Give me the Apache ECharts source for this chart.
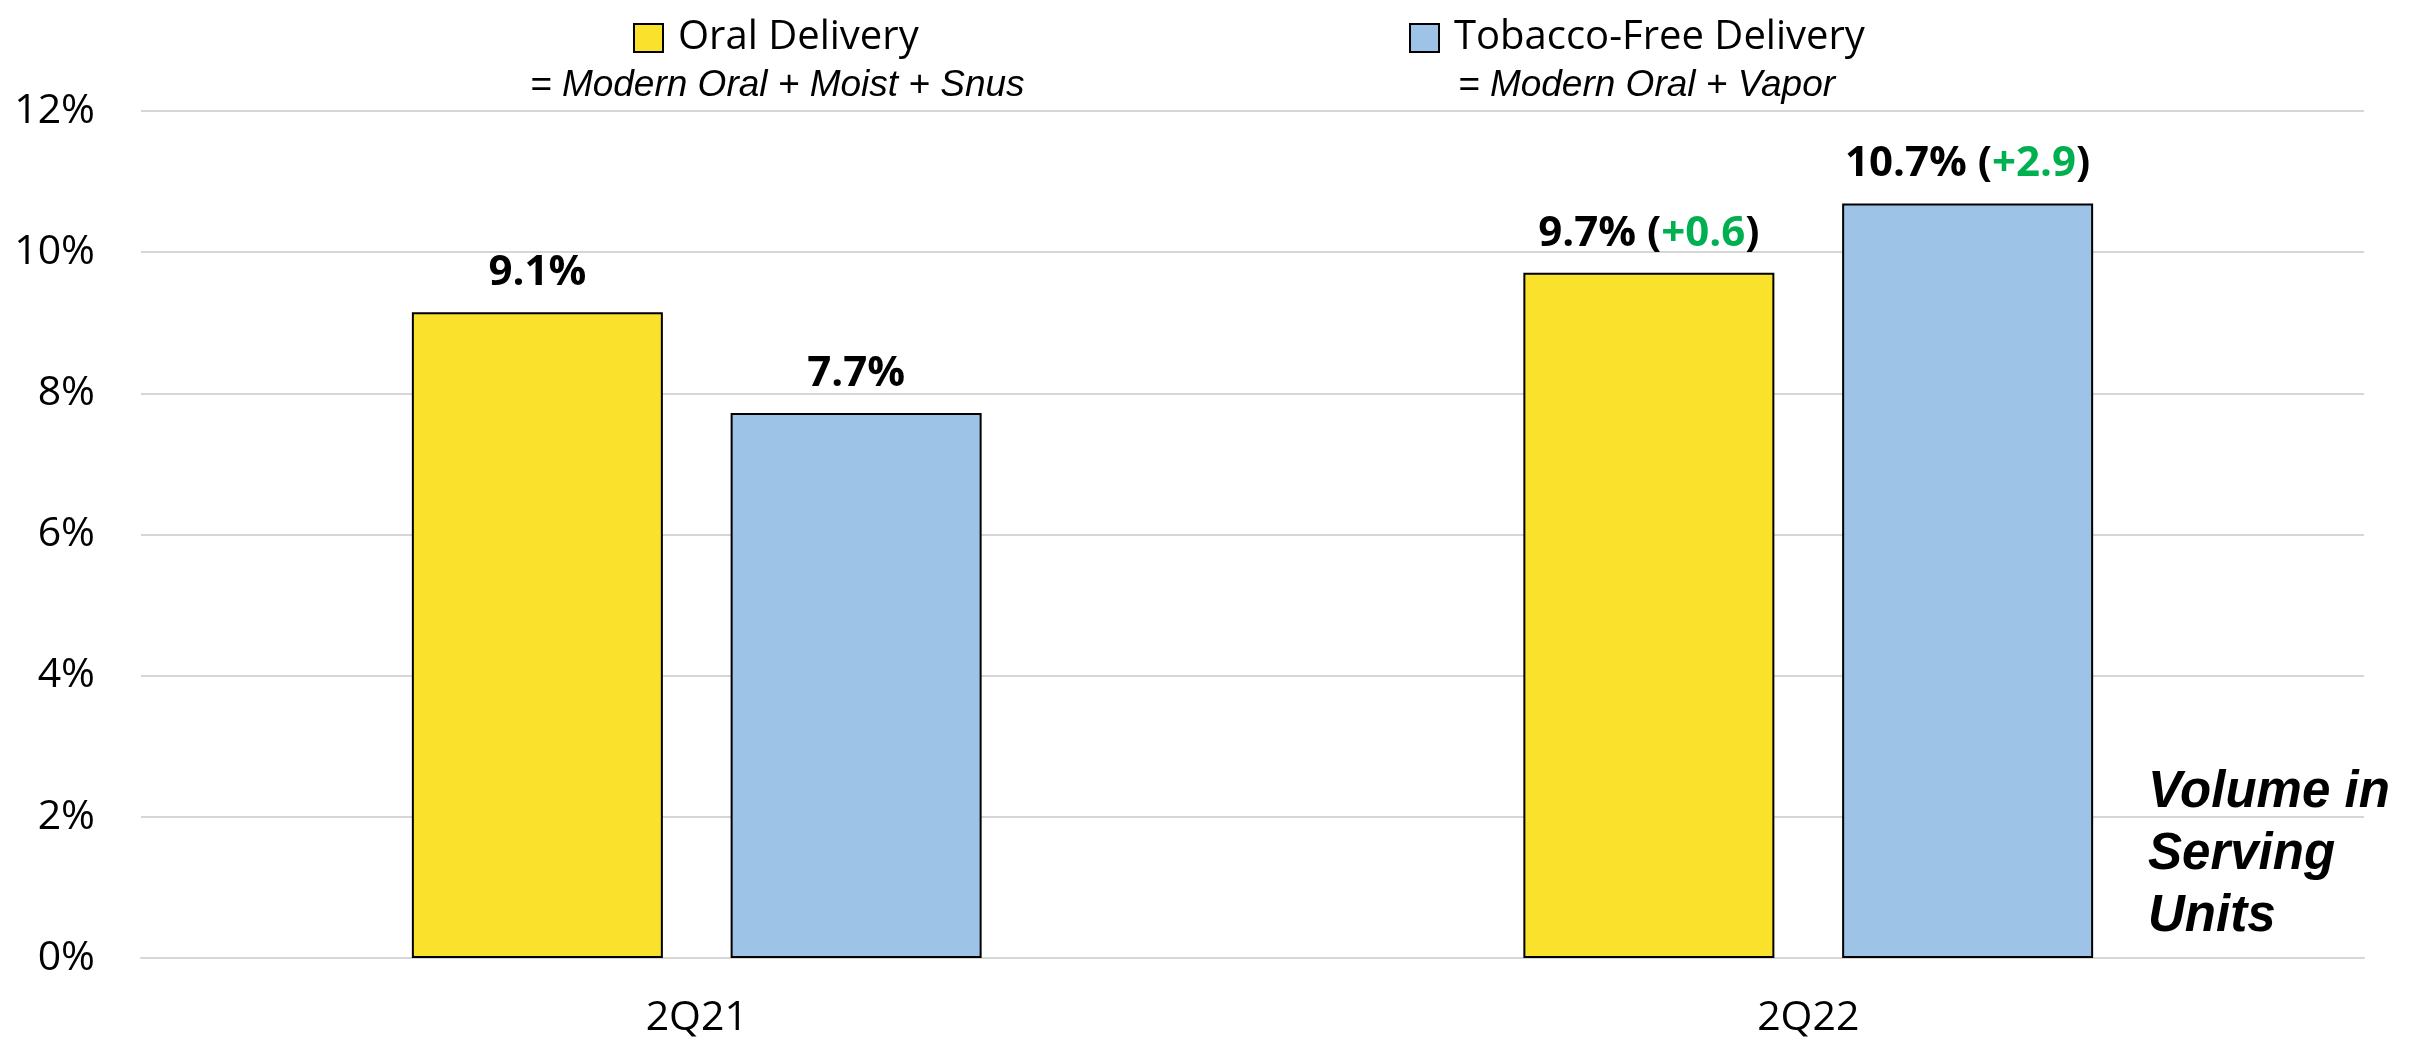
<!DOCTYPE html>
<html>
<head>
<meta charset="utf-8">
<script src="https://cdn.jsdelivr.net/npm/echarts@6/dist/echarts.min.js"></script>
<style>
  html, body { margin: 0; padding: 0; background: #fff; }
  #main { width: 2410px; height: 1041px; }
</style>
</head>
<body>
<div id="main"></div>
<script>
const quarters = ['2Q21', '2Q22'];
const oralShare = [9.15, 9.71];
const freeShare = [7.72, 10.69];
const oralLabels = ['9.1%', '9.7%'];
const freeLabels = ['7.7%', '10.7%'];
const oralChange = [null, '+0.6'];
const freeChange = [null, '+2.9'];
const yTicks = [0, 2, 4, 6, 8, 10, 12];

const sans = '"Open Sans", "Noto Sans", sans-serif';
const arial = '"Liberation Sans", Arial, sans-serif';

// bar label: value, plus the green change vs. last year when there is one
const labelFor = (texts, changes) => ({
  show: true,
  position: 'top',
  distance: 18,
  formatter: p => {
    const d = changes[p.dataIndex];
    const v = texts[p.dataIndex];
    return d ? `{b|${v} (}{g|${d}}{b|)}` : `{b|${v}}`;
  },
  rich: {
    b: { fontFamily: sans, fontWeight: 'bold', fontSize: 42, color: '#000' },
    g: { fontFamily: sans, fontWeight: 'bold', fontSize: 42, color: '#00B050' }
  }
});

const legendText = { fontFamily: sans, fontSize: 40, color: '#000', lineHeight: 28, padding: [0, 0, 0, 10] };

const chart = echarts.init(document.getElementById('main'));
chart.setOption({
  animation: false,
  grid: { left: 141, right: 46, top: 111, bottom: 83 },
  legend: [
    {
      data: ['Oral Delivery'], left: 628, top: 13,
      icon: 'rect', itemWidth: 29, itemHeight: 28,
      textStyle: legendText
    },
    {
      data: ['Tobacco-Free Delivery'], left: 1404, top: 13,
      icon: 'rect', itemWidth: 29, itemHeight: 28,
      textStyle: legendText
    }
  ],
  graphic: [
    {
      type: 'text', left: 530, top: 67,
      style: { text: '= Modern Oral + Moist + Snus', font: 'italic 37px ' + arial, fill: '#000' }
    },
    {
      type: 'text', left: 1458, top: 67,
      style: { text: '= Modern Oral + Vapor', font: 'italic 37px ' + arial, fill: '#000' }
    },
    {
      type: 'text', left: 2148, top: 762,
      style: { text: 'Volume in\nServing\nUnits', font: 'italic bold 51px ' + arial, lineHeight: 62, fill: '#000' }
    }
  ],
  xAxis: {
    type: 'category',
    data: quarters,
    axisTick: { show: false },
    axisLine: { lineStyle: { color: '#d6d6d6', width: 2 } },
    axisLabel: { margin: 40, fontFamily: sans, fontSize: 41, color: '#000' }
  },
  yAxis: {
    type: 'value',
    min: yTicks[0],
    max: yTicks[yTicks.length - 1],
    interval: 2,
    axisLabel: { margin: 46, formatter: '{value}%', fontFamily: sans, fontSize: 41, color: '#000' },
    splitLine: { lineStyle: { color: '#d6d6d6', width: 2 } }
  },
  series: [
    {
      name: 'Oral Delivery', type: 'bar', data: oralShare,
      barWidth: 251, barGap: '27%',
      itemStyle: { color: '#FAE22C', borderColor: '#000', borderWidth: 2 },
      label: labelFor(oralLabels, oralChange)
    },
    {
      name: 'Tobacco-Free Delivery', type: 'bar', data: freeShare,
      barWidth: 251,
      itemStyle: { color: '#9DC3E6', borderColor: '#000', borderWidth: 2 },
      label: labelFor(freeLabels, freeChange)
    }
  ]
});
</script>
</body>
</html>
